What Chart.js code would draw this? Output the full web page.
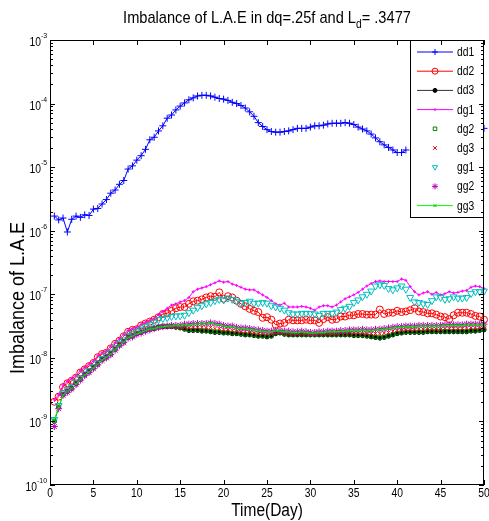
<!DOCTYPE html>
<html><head><meta charset="utf-8">
<script src="https://cdn.jsdelivr.net/npm/chart.js@4.4.1/dist/chart.umd.min.js"></script>
<style>html,body{margin:0;padding:0;background:#fff;overflow:hidden}canvas{display:block}</style>
</head><body>
<canvas id="c" width="489" height="521"></canvas>
<script>
// ---- text ----
const TITLE_MAIN = "Imbalance of L.A.E in dq=.25f and L";
const TITLE_SUB = "d";
const TITLE_REST = "= .3477";
const X_TITLE = "Time(Day)";
const Y_TITLE = "Imbalance of L.A.E";
const X_TICKS = [0,5,10,15,20,25,30,35,40,45,50];
const Y_TICK_EXPONENTS = [-3,-4,-5,-6,-7,-8,-9,-10];
const SERIES_NAMES = ["dd1","dd2","dd3","dg1","dg2","dg3","gg1","gg2","gg3"];

// ---- data: sample times (days) and log10 of the value ----
const days = [0.5,1,1.5,2,2.5,3,3.5,4,4.5,5, 5.5,6,6.5,7,7.5,8,8.5,9,9.5,10,
 10.5,11,11.5,12,12.5,13,13.5,14,14.5,15, 15.5,16,16.5,17,17.5,18,18.5,19,19.5,20,
 20.5,21,21.5,22,22.5,23,23.5,24,24.5,25, 25.5,26,26.5,27,27.5,28,28.5,29,29.5,30,
 30.5,31,31.5,32,32.5,33,33.5,34,34.5,35, 35.5,36,36.5,37,37.5,38,38.5,39,39.5,40,
 40.5,41,41.5,42,42.5,43,43.5,44,44.5,45, 45.5,46,46.5,47,47.5,48,48.5,49,49.5,50];

const dd1Log = [-5.77,-5.83,-5.80,-6.02,-5.82,-5.77,-5.79,-5.75,-5.76,-5.66,
 -5.65,-5.58,-5.51,-5.41,-5.36,-5.27,-5.21,-5.03,-4.98,-4.89,
 -4.82,-4.72,-4.57,-4.53,-4.43,-4.35,-4.23,-4.18,-4.10,-4.04,
 -3.99,-3.94,-3.91,-3.88,-3.87,-3.87,-3.88,-3.90,-3.92,-3.93,
 -3.95,-3.98,-4.00,-4.03,-4.07,-4.13,-4.20,-4.30,-4.36,-4.41,
 -4.44,-4.45,-4.45,-4.44,-4.43,-4.41,-4.39,-4.39,-4.39,-4.37,
 -4.35,-4.35,-4.34,-4.32,-4.31,-4.31,-4.31,-4.30,-4.31,-4.33,
 -4.37,-4.40,-4.43,-4.48,-4.54,-4.60,-4.65,-4.69,-4.73,-4.77,
 -4.77,-4.73,null,null,null,null,null,null,null,null,
 null,null,null,null,null,null,null,null,null,-4.39];

const dd2Log = [-8.69,-8.61,-8.46,-8.40,-8.36,-8.31,-8.23,-8.18,-8.13,-8.08,
 -7.99,-7.94,-7.92,-7.85,-7.78,-7.73,-7.66,-7.59,-7.56,-7.55,
 -7.49,-7.46,-7.43,-7.40,-7.36,-7.31,-7.30,-7.26,-7.22,-7.20,
 -7.20,-7.15,-7.11,-7.10,-7.08,-7.05,-7.03,-7.04,-6.97,-7.07,
 -7.03,-7.05,-7.10,-7.15,-7.19,-7.23,-7.26,-7.28,-7.37,-7.36,
 -7.40,-7.48,-7.46,-7.45,-7.40,-7.41,-7.41,-7.41,-7.40,-7.41,
 -7.41,-7.45,-7.39,-7.36,-7.40,-7.39,-7.35,-7.35,-7.33,-7.33,
 -7.31,-7.31,-7.32,-7.32,-7.32,-7.24,-7.31,-7.29,-7.29,-7.26,
 -7.28,-7.27,-7.25,-7.22,-7.27,-7.28,-7.30,-7.30,-7.32,-7.35,
 -7.36,-7.39,-7.33,-7.29,-7.29,-7.29,-7.31,-7.34,-7.35,-7.40];

const dd3Log = [-9.00,-8.78,-8.58,-8.53,-8.48,-8.41,-8.34,-8.27,-8.22,-8.16,
 -8.10,-8.03,-7.99,-7.94,-7.87,-7.80,-7.75,-7.68,-7.66,-7.62,
 -7.60,-7.57,-7.55,-7.54,-7.52,-7.51,-7.51,-7.51,-7.52,-7.53,
 -7.55,-7.57,-7.57,-7.57,-7.58,-7.58,-7.59,-7.60,-7.60,-7.61,
 -7.61,-7.62,-7.62,-7.63,-7.64,-7.64,-7.65,-7.66,-7.66,-7.67,
 -7.66,-7.62,-7.61,-7.63,-7.64,-7.64,-7.64,-7.64,-7.64,-7.64,
 -7.64,-7.64,-7.64,-7.64,-7.64,-7.64,-7.64,-7.64,-7.64,-7.65,
 -7.65,-7.65,-7.66,-7.67,-7.68,-7.69,-7.68,-7.66,-7.64,-7.62,
 -7.61,-7.60,-7.60,-7.60,-7.60,-7.60,-7.59,-7.59,-7.59,-7.59,
 -7.59,-7.59,-7.59,-7.59,-7.59,-7.59,-7.58,-7.58,-7.57,-7.56];

const dg1Log = [-8.66,-8.58,-8.43,-8.37,-8.33,-8.28,-8.20,-8.15,-8.10,-8.05,
 -7.97,-7.92,-7.89,-7.82,-7.76,-7.70,-7.63,-7.57,-7.54,-7.52,
 -7.47,-7.44,-7.41,-7.38,-7.32,-7.27,-7.22,-7.17,-7.15,-7.12,
 -7.10,-7.05,-6.96,-6.92,-6.90,-6.88,-6.85,-6.82,-6.79,-6.81,
 -6.80,-6.84,-6.86,-6.89,-6.92,-6.93,-6.93,-6.97,-7.01,-7.05,
 -7.10,-7.15,-7.17,-7.14,-7.20,-7.20,-7.20,-7.19,-7.20,-7.22,
 -7.25,-7.20,-7.18,-7.18,-7.20,-7.17,-7.12,-7.07,-7.04,-7.01,
 -6.97,-6.92,-6.87,-6.83,-6.80,-6.79,-6.80,-6.80,-6.80,-6.80,
 -6.76,-6.78,-6.88,-6.96,-7.01,-6.98,-6.96,-7.00,-6.97,-7.01,
 -6.99,-6.96,-6.98,-6.97,-6.95,-6.94,-6.89,-6.87,-6.88,-6.91];

const dg2Log = [-8.99,-8.77,-8.57,-8.52,-8.47,-8.40,-8.33,-8.26,-8.21,-8.15,
 -8.09,-8.02,-7.98,-7.93,-7.86,-7.79,-7.74,-7.67,-7.65,-7.61,
 -7.59,-7.56,-7.54,-7.53,-7.51,-7.50,-7.50,-7.50,-7.51,-7.52,
 -7.54,-7.56,-7.56,-7.56,-7.57,-7.57,-7.58,-7.59,-7.59,-7.60,
 -7.60,-7.61,-7.61,-7.62,-7.63,-7.63,-7.64,-7.65,-7.65,-7.66,
 -7.65,-7.61,-7.60,-7.62,-7.63,-7.63,-7.63,-7.63,-7.63,-7.63,
 -7.63,-7.63,-7.63,-7.63,-7.63,-7.63,-7.63,-7.63,-7.63,-7.64,
 -7.64,-7.64,-7.65,-7.66,-7.67,-7.68,-7.67,-7.65,-7.63,-7.61,
 -7.60,-7.59,-7.59,-7.59,-7.59,-7.59,-7.58,-7.58,-7.58,-7.58,
 -7.58,-7.58,-7.58,-7.58,-7.58,-7.58,-7.57,-7.57,-7.56,-7.55];

const dg3Log = [-8.99,-8.77,-8.58,-8.53,-8.48,-8.41,-8.34,-8.27,-8.22,-8.16,
 -8.10,-8.03,-7.99,-7.94,-7.87,-7.80,-7.75,-7.68,-7.66,-7.62,
 -7.60,-7.57,-7.55,-7.54,-7.52,-7.51,-7.51,-7.51,-7.51,-7.52,
 -7.52,-7.53,-7.52,-7.52,-7.52,-7.53,-7.52,-7.54,-7.54,-7.56,
 -7.56,-7.57,-7.58,-7.59,-7.59,-7.60,-7.61,-7.62,-7.62,-7.63,
 -7.63,-7.60,-7.60,-7.61,-7.62,-7.62,-7.62,-7.62,-7.62,-7.63,
 -7.63,-7.62,-7.62,-7.62,-7.62,-7.62,-7.61,-7.61,-7.61,-7.61,
 -7.61,-7.61,-7.62,-7.62,-7.62,-7.62,-7.61,-7.60,-7.58,-7.57,
 -7.57,-7.56,-7.56,-7.56,-7.55,-7.55,-7.55,-7.55,-7.55,-7.55,
 -7.54,-7.54,-7.54,-7.54,-7.54,-7.53,-7.53,-7.53,-7.53,-7.52];

const gg1Log = [-8.97,-8.75,-8.55,-8.50,-8.45,-8.38,-8.31,-8.25,-8.20,-8.14,
 -8.08,-8.01,-7.97,-7.91,-7.84,-7.77,-7.72,-7.65,-7.62,-7.58,
 -7.55,-7.51,-7.48,-7.44,-7.40,-7.38,-7.37,-7.35,-7.34,-7.34,
 -7.33,-7.29,-7.25,-7.21,-7.18,-7.15,-7.13,-7.10,-7.08,-7.09,
 -7.06,-7.08,-7.11,-7.14,-7.13,-7.11,-7.14,-7.14,-7.13,-7.14,
 -7.18,-7.20,-7.22,-7.25,-7.29,-7.31,-7.31,-7.30,-7.30,-7.30,
 -7.31,-7.33,-7.30,-7.30,-7.30,-7.28,-7.24,-7.22,-7.19,-7.13,
 -7.09,-7.04,-7.00,-6.95,-6.87,-6.85,-6.86,-6.91,-6.93,-6.90,
 -6.87,-6.92,-7.05,-7.12,-7.13,-7.15,-7.16,-7.10,-7.04,-7.05,
 -7.08,-7.07,-7.04,-7.06,-7.06,-7.05,-6.99,-6.96,-6.96,-6.95];

const gg2Log = [-9.08,-8.80,-8.59,-8.54,-8.49,-8.42,-8.35,-8.28,-8.23,-8.17,
 -8.11,-8.04,-8.00,-7.95,-7.88,-7.81,-7.76,-7.69,-7.67,-7.63,
 -7.61,-7.58,-7.56,-7.54,-7.52,-7.51,-7.50,-7.49,-7.49,-7.49,
 -7.47,-7.47,-7.46,-7.46,-7.46,-7.46,-7.45,-7.46,-7.47,-7.49,
 -7.50,-7.50,-7.52,-7.53,-7.53,-7.54,-7.55,-7.56,-7.57,-7.58,
 -7.58,-7.57,-7.57,-7.58,-7.58,-7.59,-7.59,-7.58,-7.59,-7.60,
 -7.60,-7.59,-7.59,-7.58,-7.58,-7.58,-7.57,-7.57,-7.56,-7.56,
 -7.56,-7.55,-7.56,-7.56,-7.55,-7.55,-7.54,-7.53,-7.52,-7.51,
 -7.51,-7.50,-7.50,-7.50,-7.49,-7.49,-7.49,-7.49,-7.49,-7.49,
 -7.48,-7.48,-7.48,-7.48,-7.48,-7.47,-7.47,-7.47,-7.47,-7.47];

const gg3Log = [-8.98,-8.77,-8.58,-8.53,-8.48,-8.41,-8.34,-8.27,-8.22,-8.16,
 -8.10,-8.03,-7.99,-7.94,-7.87,-7.80,-7.75,-7.68,-7.66,-7.62,
 -7.60,-7.57,-7.55,-7.54,-7.52,-7.51,-7.50,-7.50,-7.49,-7.50,
 -7.48,-7.48,-7.47,-7.47,-7.46,-7.47,-7.45,-7.47,-7.48,-7.50,
 -7.51,-7.51,-7.53,-7.54,-7.54,-7.55,-7.56,-7.57,-7.58,-7.59,
 -7.59,-7.57,-7.58,-7.59,-7.59,-7.60,-7.60,-7.59,-7.60,-7.61,
 -7.61,-7.60,-7.60,-7.59,-7.59,-7.59,-7.58,-7.58,-7.57,-7.57,
 -7.57,-7.56,-7.57,-7.57,-7.56,-7.56,-7.55,-7.54,-7.53,-7.52,
 -7.52,-7.51,-7.51,-7.51,-7.50,-7.50,-7.50,-7.50,-7.50,-7.50,
 -7.49,-7.49,-7.49,-7.49,-7.49,-7.48,-7.48,-7.48,-7.48,-7.48];

// ---- build points (convert log10 readings back to values) ----
function pts(logs){ return days.map((d,i)=>({x:d, y: logs[i]==null ? null : Math.pow(10, logs[i])})); }

const FONT = "'Liberation Sans', Arial, Helvetica, sans-serif";
const SX = 0.86; // condensed look

function ctxText(ctx, str, x, y, size, align, sx){
  ctx.save();
  ctx.font = size + "px " + FONT;
  ctx.translate(x, y);
  ctx.scale(sx || SX, 1);
  ctx.textAlign = align || "left";
  ctx.textBaseline = "alphabetic";
  ctx.fillStyle = "#000";
  ctx.fillText(str, 0, 0);
  ctx.restore();
}
function textW(ctx, str, size, sx){ ctx.save(); ctx.font = size + "px " + FONT; const w = ctx.measureText(str).width*(sx||SX); ctx.restore(); return w; }

const decorPlugin = {
  id: "decor",
  afterDatasetsDraw(chart){
    const ctx = chart.ctx, a = chart.chartArea;
    // legend box
    const lx = 410, ly = a.top, lw = a.right - 410, lh = 178;
    ctx.save();
    ctx.fillStyle = "#fff";
    ctx.fillRect(lx, ly, lw, lh);
    ctx.strokeStyle = "#000"; ctx.lineWidth = 1;
    ctx.strokeRect(lx + 0.5, ly + 0.5, lw - 1, lh - 1);
    chart.data.datasets.forEach((ds, i) => {
      const yy = ly + 12 + i * 19.2;
      if (ds.showLine !== false) {
        ctx.strokeStyle = ds.borderColor; ctx.lineWidth = 1;
        ctx.beginPath(); ctx.moveTo(417, yy); ctx.lineTo(453, yy); ctx.stroke();
      }
      ctx.strokeStyle = ds.pointBorderColor; ctx.fillStyle = ds.pointBackgroundColor; ctx.lineWidth = 1;
      Chart.helpers.drawPoint(ctx, {pointStyle: ds.pointStyle, rotation: ds.pointRotation || 0, radius: Math.min(ds.pointRadius, 3), borderWidth: 1}, 435, yy);
      ctxText(ctx, ds.label, 457, yy + 4, 12);
    });
    ctx.restore();
  },
  afterDraw(chart){
    const ctx = chart.ctx, a = chart.chartArea;
    const xs = chart.scales.x, ys = chart.scales.y;
    ctx.save();
    ctx.strokeStyle = "#000"; ctx.lineWidth = 1;
    // frame
    ctx.strokeRect(a.left + 0.5, a.top + 0.5, a.right - a.left - 1, a.bottom - a.top - 1);
    // x ticks (inward, bottom and top)
    ctx.beginPath();
    X_TICKS.forEach(v => {
      const px = Math.round(xs.getPixelForValue(v)) + 0.5;
      ctx.moveTo(px, a.bottom); ctx.lineTo(px, a.bottom - 5);
      ctx.moveTo(px, a.top); ctx.lineTo(px, a.top + 5);
    });
    // y ticks (log, major + minor, left and right)
    Y_TICK_EXPONENTS.forEach(e => {
      for (let m = 1; m <= 9; m++) {
        const v = m * Math.pow(10, e);
        if (e === -3 && m > 1) continue;
        const py = Math.round(ys.getPixelForValue(v)) + 0.5;
        const len = m === 1 ? 5 : 3;
        ctx.moveTo(a.left, py); ctx.lineTo(a.left + len, py);
        ctx.moveTo(a.right, py); ctx.lineTo(a.right - len, py);
      }
    });
    ctx.stroke();
    // x tick labels
    X_TICKS.forEach(v => {
      ctxText(ctx, String(v), xs.getPixelForValue(v), a.bottom + 12, 12, "center");
    });
    // y tick labels 10^e
    Y_TICK_EXPONENTS.forEach(e => {
      const py = ys.getPixelForValue(Math.pow(10, e));
      const ew = textW(ctx, String(e), 8);
      ctxText(ctx, String(e), a.left - 3, py - 2, 8, "right");
      ctxText(ctx, "10", a.left - 3 - ew, py + 6, 12, "right");
    });
    // title with subscript
    const tSize = 17;
    const w1 = textW(ctx, TITLE_MAIN, tSize), w2 = textW(ctx, TITLE_SUB, 12), w3 = textW(ctx, TITLE_REST, tSize);
    const tw = w1 + w2 + w3;
    let tx = (a.left + a.right) / 2 - tw / 2;
    ctxText(ctx, TITLE_MAIN, tx, 23, tSize); tx += w1;
    ctxText(ctx, TITLE_SUB, tx, 28, 12); tx += w2;
    ctxText(ctx, TITLE_REST, tx, 23, tSize);
    // x title
    ctxText(ctx, X_TITLE, (a.left + a.right) / 2, 516, 18, "center");
    // y title
    ctx.save();
    ctx.translate(24, 298);
    ctx.rotate(-Math.PI / 2);
    ctxText(ctx, Y_TITLE, 0, 0, 20, "center", 0.9);
    ctx.restore();
    ctx.restore();
  }
};

function mk(label, logs, o){
  return Object.assign({label, data: pts(logs), borderWidth: 1, pointBorderWidth: 1,
    pointHoverRadius: 0, spanGaps: false, clip: false, tension: 0}, o);
}

const datasets = [
  mk("dd1", dd1Log, {borderColor:"#0000FF", pointStyle:"cross", pointRadius:3.5, pointBorderColor:"#0000FF", pointBackgroundColor:"#0000FF", order:8}),
  mk("dd2", dd2Log, {borderColor:"#FF0000", pointStyle:"circle", pointRadius:3.5, pointBorderColor:"#FF0000", pointBackgroundColor:"rgba(0,0,0,0)", order:7}),
  mk("dd3", dd3Log, {borderColor:"#333333", pointStyle:"circle", pointRadius:2, pointBorderColor:"#000000", pointBackgroundColor:"#000000", order:6}),
  mk("dg1", dg1Log, {borderColor:"#FF00FF", pointStyle:"cross", pointRadius:1.5, pointBorderColor:"#FF00FF", pointBackgroundColor:"#FF00FF", order:5}),
  mk("dg2", dg2Log, {showLine:false, borderColor:"#008000", pointStyle:"rect", pointRadius:2.5, pointBorderColor:"#008000", pointBackgroundColor:"rgba(0,0,0,0)", order:4}),
  mk("dg3", dg3Log, {showLine:false, borderColor:"#FF0000", pointStyle:"crossRot", pointRadius:2.5, pointBorderColor:"#FF0000", pointBackgroundColor:"#FF0000", order:3}),
  mk("gg1", gg1Log, {showLine:false, borderColor:"#00BFBF", pointStyle:"triangle", pointRotation:180, pointRadius:4, pointBorderColor:"#00BFBF", pointBackgroundColor:"rgba(0,0,0,0)", order:2}),
  mk("gg2", gg2Log, {showLine:false, borderColor:"#BF00BF", pointStyle:"star", pointRadius:3.5, pointBorderColor:"#BF00BF", pointBackgroundColor:"#BF00BF", order:1}),
  mk("gg3", gg3Log, {borderColor:"#00FF00", pointStyle:"crossRot", pointRadius:2, pointBorderColor:"#00CC00", pointBackgroundColor:"#00FF00", order:0})
];

new Chart(document.getElementById("c"), {
  type: "line",
  data: { datasets },
  options: {
    responsive: false, animation: false, devicePixelRatio: 1,
    layout: { padding: { left: 50, right: 2, top: 40, bottom: 36 } },
    plugins: { legend: { display: false }, title: { display: false }, tooltip: { enabled: false } },
    events: [],
    scales: {
      x: { type: "linear", min: 0, max: 50, display: false },
      y: { type: "logarithmic", min: 1e-10, max: 1e-3, display: false }
    }
  },
  plugins: [decorPlugin]
});
</script>
</body></html>
